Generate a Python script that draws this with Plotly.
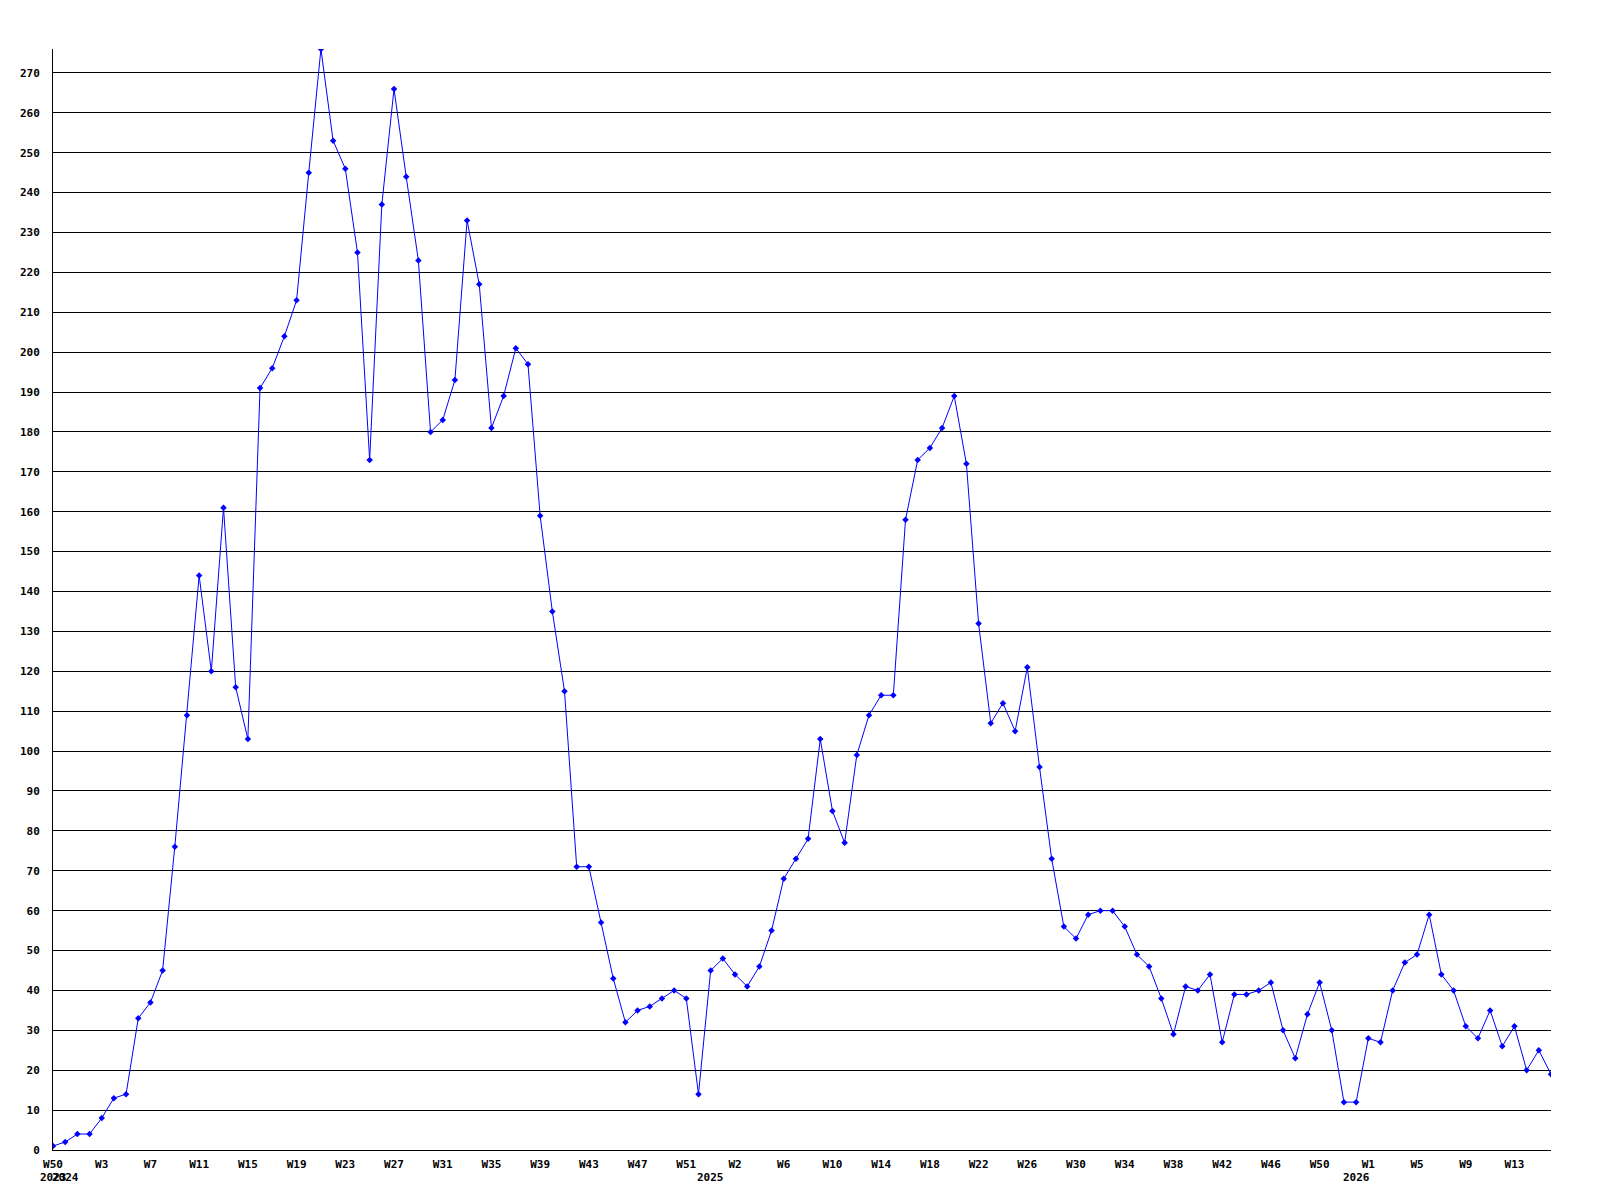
import plotly.graph_objects as go

values = [1, 2, 4, 4, 8, 13, 14, 33, 37, 45, 76, 109, 144, 120, 161, 116, 103,
          191, 196, 204, 213, 245, 276, 253, 246, 225, 173, 237, 266, 244, 223,
          180, 183, 193, 233, 217, 181, 189, 201, 197, 159, 135, 115, 71, 71, 57,
          43, 32, 35, 36, 38, 40, 38, 14, 45, 48, 44, 41, 46, 55, 68, 73, 78, 103,
          85, 77, 99, 109, 114, 114, 158, 173, 176, 181, 189, 172, 132, 107, 112,
          105, 121, 96, 73, 56, 53, 59, 60, 60, 56, 49, 46, 38, 29, 41, 40, 44, 27,
          39, 39, 40, 42, 30, 23, 34, 42, 30, 12, 12, 28, 27, 40, 47, 49, 59, 44,
          40, 31, 28, 35, 26, 31, 20, 25, 19]

week_labels = ["W50", "W3", "W7", "W11", "W15", "W19", "W23", "W27", "W31", "W35",
               "W39", "W43", "W47", "W51", "W2", "W6", "W10", "W14", "W18", "W22",
               "W26", "W30", "W34", "W38", "W42", "W46", "W50", "W1", "W5", "W9", "W13"]
week_label_idx = list(range(0, 4 * len(week_labels), 4))

years = ["2023", "2024", "2025", "2026"]
year_idx = [0, 1, 54, 107]

y_ticks = list(range(0, 280, 10))

x = list(range(len(values)))

font_family = "DejaVu Sans Mono"

fig = go.Figure()
fig.add_trace(go.Scatter(
    x=x, y=values, mode="lines+markers",
    line=dict(color="#0000FF", width=1),
    marker=dict(color="#0000FF", size=5, symbol="diamond"),
    showlegend=False,
))

for yr, xi in zip(years, year_idx):
    fig.add_annotation(
        x=xi, y=0, xref="x", yref="paper", text=yr, showarrow=False,
        yanchor="middle", xanchor="center", yshift=-27,
        font=dict(family=font_family, size=11, color="black", weight="bold"),
    )

fig.update_layout(
    width=1584, height=1184,
    margin=dict(l=42, r=41, t=41, b=42, pad=0),
    paper_bgcolor="white", plot_bgcolor="white",
    font=dict(family=font_family, size=11, color="black", weight="bold"),
)
fig.update_xaxes(
    range=[0, len(values) - 1], showgrid=False, zeroline=False,
    showline=True, linecolor="black", linewidth=1,
    tickmode="array", tickvals=week_label_idx, ticktext=week_labels,
    ticks="", ticklabelstandoff=4,
)
fig.update_yaxes(
    range=[0, max(values)], showgrid=True, gridcolor="black", gridwidth=1,
    zeroline=False, showline=True, linecolor="black", linewidth=1,
    tickmode="array", tickvals=y_ticks, ticks="", ticklabelstandoff=10,
)

fig.write_html("out.html")
